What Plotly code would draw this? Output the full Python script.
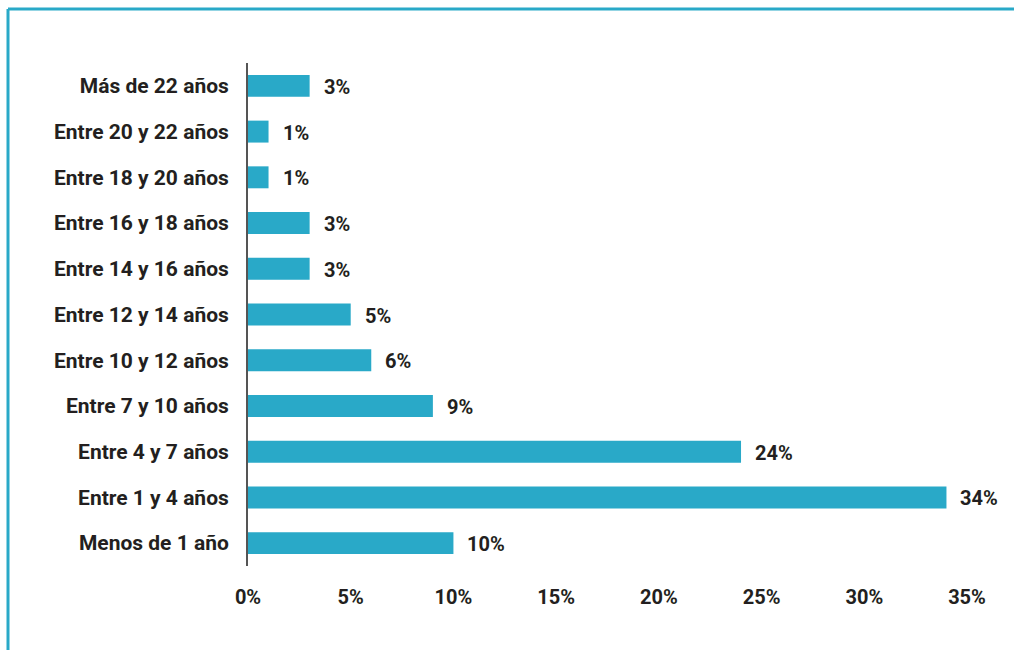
import plotly.graph_objects as go

# Antigüedad: categorías (de abajo hacia arriba) y porcentajes
categorias = [
    "Menos de 1 año",
    "Entre 1 y 4 años",
    "Entre 4 y 7 años",
    "Entre 7 y 10 años",
    "Entre 10 y 12 años",
    "Entre 12 y 14 años",
    "Entre 14 y 16 años",
    "Entre 16 y 18 años",
    "Entre 18 y 20 años",
    "Entre 20 y 22 años",
    "Más de 22 años",
]
porcentajes = [10, 34, 24, 9, 6, 5, 3, 3, 1, 1, 3]
ticks_x = [0, 5, 10, 15, 20, 25, 30, 35]
ticks_x_texto = ["0%", "5%", "10%", "15%", "20%", "25%", "30%", "35%"]

AZUL = "#29a9c8"
TEXTO = "#231f20"
FUENTE = "Roboto"

W, H = 1014, 650
M_L, M_R, M_T, M_B = 248, 47, 63, 84
plot_w = W - M_L - M_R
plot_h = H - M_T - M_B

fig = go.Figure(
    go.Bar(
        x=porcentajes,
        y=categorias,
        orientation="h",
        marker=dict(color=AZUL, line=dict(width=0)),
        width=0.48,
        hoverinfo="skip",
    )
)

# Etiquetas de valor a la derecha de cada barra
for cat, val in zip(categorias, porcentajes):
    fig.add_annotation(
        x=val, y=cat, text=f"<b>{val}%</b>", showarrow=False,
        xanchor="left", xshift=12, yshift=-1,
        font=dict(family=FUENTE, size=20, color=TEXTO),
    )

# Marco superior e izquierdo
left_px, top_px = 8, 9
x_left = (left_px - M_L) / plot_w
y_top = 1 + (M_T - top_px) / plot_h
y_bottom = -M_B / plot_h - 0.01
x_right = 1 + M_R / plot_w + 0.01
fig.add_shape(type="line", xref="paper", yref="paper",
              x0=x_left, x1=x_right, y0=y_top, y1=y_top,
              line=dict(color=AZUL, width=3))
fig.add_shape(type="line", xref="paper", yref="paper",
              x0=x_left, x1=x_left, y0=y_bottom, y1=y_top,
              line=dict(color=AZUL, width=3))

fig.update_layout(
    width=W, height=H,
    margin=dict(l=M_L, r=M_R, t=M_T, b=M_B),
    paper_bgcolor="white", plot_bgcolor="white",
    showlegend=False,
    font=dict(family=FUENTE, size=20, color=TEXTO),
    xaxis=dict(
        range=[0, 35], tickvals=ticks_x,
        ticktext=[f"<b>{t}</b>" for t in ticks_x_texto],
        showgrid=False, zeroline=False, showline=False,
        ticks="", ticklabelstandoff=17,
        tickfont=dict(family=FUENTE, size=20, color=TEXTO),
    ),
    yaxis=dict(
        categoryorder="array", categoryarray=categorias,
        tickvals=categorias,
        ticktext=[f"<b>{c}</b>" for c in categorias],
        showgrid=False, zeroline=False,
        showline=True, linecolor="#555555", linewidth=2,
        ticks="", ticklabelstandoff=13,
        tickfont=dict(family=FUENTE, size=21, color=TEXTO),
        range=[-0.5, 10.5],
    ),
)

fig.write_html("out.html")
